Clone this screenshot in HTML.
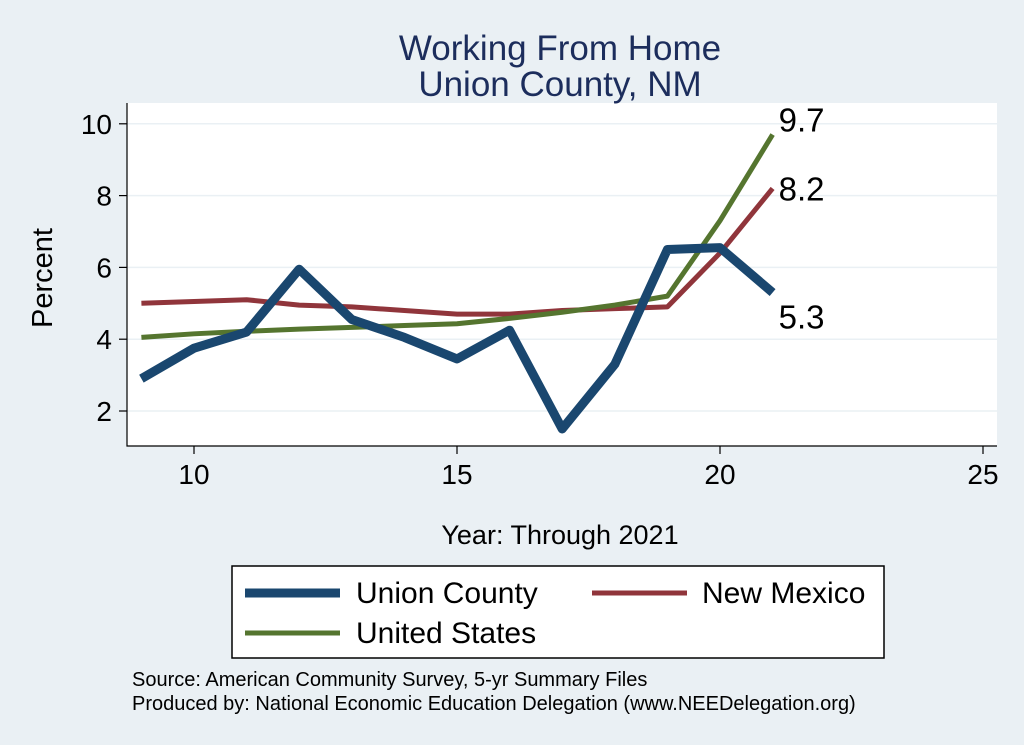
<!DOCTYPE html>
<html><head><meta charset="utf-8"><style>
body{margin:0;width:1024px;height:745px;background:#eaf0f4;font-family:"Liberation Sans",sans-serif;overflow:hidden}
</style></head><body>
<svg id="chart" width="1024" height="745" style="position:absolute;left:0;top:0">
<rect x="127" y="103" width="870" height="343" fill="#fff"/>
<text x="560" y="60" font-size="35" fill="#1c2d5c" text-anchor="middle">Working From Home</text>
<text x="560" y="96" font-size="35" fill="#1c2d5c" text-anchor="middle">Union County, NM</text>
<g id="grid"></g><g id="axes"></g><g id="series"></g>
<text x="52" y="278" font-size="29" text-anchor="middle" transform="rotate(-90 52 278)">Percent</text>
<text x="560" y="544" font-size="27" text-anchor="middle">Year: Through 2021</text>
<g>
<rect x="232" y="566" width="652" height="92" fill="#fff" stroke="#000" stroke-width="1.5"/>
<line x1="245" y1="593" x2="340" y2="593" stroke="#1a476f" stroke-width="9"/>
<text x="356" y="603" font-size="30">Union County</text>
<line x1="592" y1="593" x2="687" y2="593" stroke="#90353b" stroke-width="5"/>
<text x="702" y="603" font-size="30">New Mexico</text>
<line x1="245" y1="633" x2="340" y2="633" stroke="#55752f" stroke-width="5"/>
<text x="356" y="643" font-size="30">United States</text>
</g>
<text x="132" y="686" font-size="20">Source: American Community Survey, 5-yr Summary Files</text>
<text x="132" y="710" font-size="20">Produced by: National Economic Education Delegation (www.NEEDelegation.org)</text>
</svg>
<script>
const years=[9,10,11,12,13,14,15,16,17,18,19,20,21];
const unionCounty=[2.9,3.75,4.2,5.95,4.55,4.05,3.45,4.25,1.5,3.3,6.5,6.55,5.3];
const newMexico=[5.0,5.05,5.1,4.95,4.9,4.8,4.7,4.7,4.8,4.85,4.9,6.4,8.2];
const unitedStates=[4.05,4.15,4.22,4.28,4.33,4.38,4.43,4.58,4.75,4.95,5.2,7.3,9.7];
const xTicks=[10,15,20,25];
const yTicks=[2,4,6,8,10];
const NS="http://www.w3.org/2000/svg";
const xs=v=>194+(v-10)*52.6;
const ys=v=>411-(v-2)*35.9;
function mk(p,t,a){const e=document.createElementNS(NS,t);for(const k in a)e.setAttribute(k,a[k]);document.getElementById(p).appendChild(e);return e;}
yTicks.forEach(v=>{
 const g=mk('grid','line',{x1:127,x2:997,y1:ys(v),y2:ys(v),stroke:'#eaf0f4','stroke-width':1.5});
 
 
 const t=mk('axes','line',{x1:119,x2:127,y1:ys(v),y2:ys(v),stroke:'#000','stroke-width':1.2});
 
 
 const l=mk('axes','text',{x:112,y:ys(v)+10,'font-size':28,'text-anchor':'end'});l.textContent=v;
 
 
});
xTicks.forEach(v=>{
 const t=mk('axes','line',{x1:xs(v),x2:xs(v),y1:446,y2:454,stroke:'#000','stroke-width':1.2});
 
 
 const l=mk('axes','text',{x:xs(v),y:484,'font-size':28,'text-anchor':'middle'});l.textContent=v;
 
 
});
const ax=mk('axes','path',{d:'M127 103V446H997',fill:'none',stroke:'#000','stroke-width':1.2});


function series(vals,color,w,name,dy){
 const d=vals.map((v,i)=>(i?'L':'M')+xs(years[i])+' '+ys(v)).join('');
 const p=mk('series','path',{d:d,fill:'none',stroke:color,'stroke-width':w,'stroke-linejoin':'round'});
 
 
 const n=vals.length-1;
 const l=mk('series','text',{x:xs(years[n])+6,y:ys(vals[n])+dy,'font-size':33});l.textContent=vals[n].toFixed(1);
 
 
}
series(newMexico,'#90353b',5,'new-mexico',12);
series(unitedStates,'#55752f',5,'united-states',-3);
series(unionCounty,'#1a476f',9,'union-county',36);
</script>
</body></html>
